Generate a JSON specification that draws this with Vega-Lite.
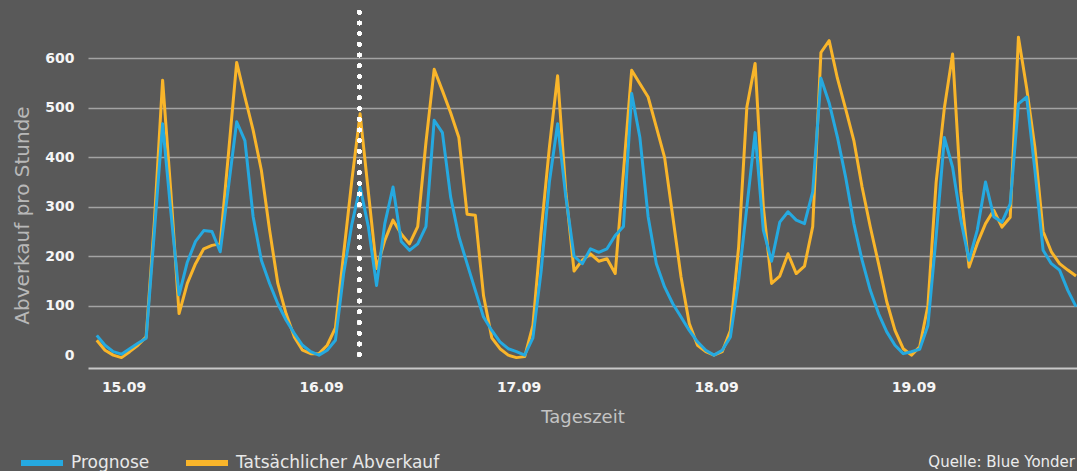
{
  "$schema": "https://vega.github.io/schema/vega-lite/v6.json",
  "width": 989,
  "height": 359,
  "autosize": {"type": "none"},
  "padding": {"left": 88, "top": 9, "right": 0, "bottom": 103},
  "background": "#595959",
  "data": {"values": [
    {"t":"2014-09-14T20:45","ist":30,"prognose":40},
    {"t":"2014-09-14T21:45","ist":10,"prognose":20},
    {"t":"2014-09-14T22:45","ist":0,"prognose":7},
    {"t":"2014-09-14T23:45","ist":-5,"prognose":2},
    {"t":"2014-09-15T00:45","ist":7,"prognose":13},
    {"t":"2014-09-15T01:45","ist":20,"prognose":24},
    {"t":"2014-09-15T02:45","ist":37,"prognose":34},
    {"t":"2014-09-15T03:45","ist":270,"prognose":250},
    {"t":"2014-09-15T04:45","ist":556,"prognose":468},
    {"t":"2014-09-15T05:45","ist":330,"prognose":290},
    {"t":"2014-09-15T06:45","ist":84,"prognose":122},
    {"t":"2014-09-15T07:45","ist":145,"prognose":188},
    {"t":"2014-09-15T08:45","ist":185,"prognose":230},
    {"t":"2014-09-15T09:45","ist":215,"prognose":252},
    {"t":"2014-09-15T10:45","ist":222,"prognose":250},
    {"t":"2014-09-15T11:45","ist":225,"prognose":209},
    {"t":"2014-09-15T12:45","ist":407,"prognose":340},
    {"t":"2014-09-15T13:45","ist":592,"prognose":472},
    {"t":"2014-09-15T14:45","ist":522,"prognose":434},
    {"t":"2014-09-15T15:45","ist":455,"prognose":280},
    {"t":"2014-09-15T16:45","ist":374,"prognose":192},
    {"t":"2014-09-15T17:45","ist":253,"prognose":145},
    {"t":"2014-09-15T18:45","ist":145,"prognose":104},
    {"t":"2014-09-15T19:45","ist":84,"prognose":71},
    {"t":"2014-09-15T20:45","ist":37,"prognose":44},
    {"t":"2014-09-15T21:45","ist":10,"prognose":20},
    {"t":"2014-09-15T22:45","ist":3,"prognose":7},
    {"t":"2014-09-15T23:45","ist":3,"prognose":0},
    {"t":"2014-09-16T00:45","ist":20,"prognose":10},
    {"t":"2014-09-16T01:45","ist":55,"prognose":30},
    {"t":"2014-09-16T02:45","ist":205,"prognose":165},
    {"t":"2014-09-16T03:45","ist":354,"prognose":265},
    {"t":"2014-09-16T04:45","ist":488,"prognose":340},
    {"t":"2014-09-16T05:45","ist":330,"prognose":260},
    {"t":"2014-09-16T06:45","ist":175,"prognose":141},
    {"t":"2014-09-16T07:45","ist":232,"prognose":266},
    {"t":"2014-09-16T08:45","ist":273,"prognose":340},
    {"t":"2014-09-16T09:45","ist":245,"prognose":230},
    {"t":"2014-09-16T10:45","ist":225,"prognose":212},
    {"t":"2014-09-16T11:45","ist":260,"prognose":225},
    {"t":"2014-09-16T12:45","ist":430,"prognose":260},
    {"t":"2014-09-16T13:45","ist":578,"prognose":475},
    {"t":"2014-09-16T14:45","ist":535,"prognose":450},
    {"t":"2014-09-16T15:45","ist":490,"prognose":320},
    {"t":"2014-09-16T16:45","ist":440,"prognose":240},
    {"t":"2014-09-16T17:45","ist":285,"prognose":185},
    {"t":"2014-09-16T18:45","ist":283,"prognose":131},
    {"t":"2014-09-16T19:45","ist":120,"prognose":77},
    {"t":"2014-09-16T20:45","ist":35,"prognose":50},
    {"t":"2014-09-16T21:45","ist":13,"prognose":27},
    {"t":"2014-09-16T22:45","ist":0,"prognose":13},
    {"t":"2014-09-16T23:45","ist":-5,"prognose":7},
    {"t":"2014-09-17T00:45","ist":-3,"prognose":0},
    {"t":"2014-09-17T01:45","ist":60,"prognose":35},
    {"t":"2014-09-17T02:45","ist":250,"prognose":170},
    {"t":"2014-09-17T03:45","ist":420,"prognose":350},
    {"t":"2014-09-17T04:45","ist":565,"prognose":468},
    {"t":"2014-09-17T05:45","ist":330,"prognose":320},
    {"t":"2014-09-17T06:45","ist":170,"prognose":200},
    {"t":"2014-09-17T07:45","ist":192,"prognose":185},
    {"t":"2014-09-17T08:45","ist":205,"prognose":215},
    {"t":"2014-09-17T09:45","ist":190,"prognose":208},
    {"t":"2014-09-17T10:45","ist":195,"prognose":215},
    {"t":"2014-09-17T11:45","ist":165,"prognose":242},
    {"t":"2014-09-17T12:45","ist":370,"prognose":260},
    {"t":"2014-09-17T13:45","ist":576,"prognose":529},
    {"t":"2014-09-17T14:45","ist":549,"prognose":440},
    {"t":"2014-09-17T15:45","ist":522,"prognose":280},
    {"t":"2014-09-17T16:45","ist":461,"prognose":185},
    {"t":"2014-09-17T17:45","ist":400,"prognose":138},
    {"t":"2014-09-17T18:45","ist":280,"prognose":104},
    {"t":"2014-09-17T19:45","ist":158,"prognose":77},
    {"t":"2014-09-17T20:45","ist":64,"prognose":50},
    {"t":"2014-09-17T21:45","ist":20,"prognose":27},
    {"t":"2014-09-17T22:45","ist":7,"prognose":10},
    {"t":"2014-09-17T23:45","ist":0,"prognose":0},
    {"t":"2014-09-18T00:45","ist":7,"prognose":10},
    {"t":"2014-09-18T01:45","ist":50,"prognose":37},
    {"t":"2014-09-18T02:45","ist":219,"prognose":152},
    {"t":"2014-09-18T03:45","ist":502,"prognose":300},
    {"t":"2014-09-18T04:45","ist":590,"prognose":450},
    {"t":"2014-09-18T05:45","ist":300,"prognose":253},
    {"t":"2014-09-18T06:45","ist":145,"prognose":190},
    {"t":"2014-09-18T07:45","ist":160,"prognose":269},
    {"t":"2014-09-18T08:45","ist":205,"prognose":290},
    {"t":"2014-09-18T09:45","ist":165,"prognose":273},
    {"t":"2014-09-18T10:45","ist":180,"prognose":266},
    {"t":"2014-09-18T11:45","ist":260,"prognose":330},
    {"t":"2014-09-18T12:45","ist":612,"prognose":560},
    {"t":"2014-09-18T13:45","ist":636,"prognose":510},
    {"t":"2014-09-18T14:45","ist":560,"prognose":441},
    {"t":"2014-09-18T15:45","ist":498,"prognose":360},
    {"t":"2014-09-18T16:45","ist":434,"prognose":266},
    {"t":"2014-09-18T17:45","ist":340,"prognose":192},
    {"t":"2014-09-18T18:45","ist":259,"prognose":131},
    {"t":"2014-09-18T19:45","ist":185,"prognose":84},
    {"t":"2014-09-18T20:45","ist":108,"prognose":47},
    {"t":"2014-09-18T21:45","ist":50,"prognose":20},
    {"t":"2014-09-18T22:45","ist":13,"prognose":3},
    {"t":"2014-09-18T23:45","ist":0,"prognose":7},
    {"t":"2014-09-19T00:45","ist":17,"prognose":12},
    {"t":"2014-09-19T01:45","ist":100,"prognose":60},
    {"t":"2014-09-19T02:45","ist":350,"prognose":240},
    {"t":"2014-09-19T03:45","ist":500,"prognose":440},
    {"t":"2014-09-19T04:45","ist":609,"prognose":380},
    {"t":"2014-09-19T05:45","ist":330,"prognose":273},
    {"t":"2014-09-19T06:45","ist":178,"prognose":192},
    {"t":"2014-09-19T07:45","ist":226,"prognose":253},
    {"t":"2014-09-19T08:45","ist":266,"prognose":350},
    {"t":"2014-09-19T09:45","ist":293,"prognose":280},
    {"t":"2014-09-19T10:45","ist":259,"prognose":269},
    {"t":"2014-09-19T11:45","ist":279,"prognose":306},
    {"t":"2014-09-19T12:45","ist":643,"prognose":508},
    {"t":"2014-09-19T13:45","ist":540,"prognose":522},
    {"t":"2014-09-19T14:45","ist":420,"prognose":374},
    {"t":"2014-09-19T15:45","ist":250,"prognose":212},
    {"t":"2014-09-19T16:45","ist":209,"prognose":185},
    {"t":"2014-09-19T17:45","ist":185,"prognose":172},
    {"t":"2014-09-19T18:45","ist":172,"prognose":131},
    {"t":"2014-09-19T19:45","ist":160,"prognose":98}
  ]},
  "title": {
    "text": "Quelle: Blue Yonder",
    "orient": "bottom",
    "anchor": "end",
    "frame": "group",
    "dx": -2,
    "offset": -20,
    "font": "DejaVu Sans",
    "fontSize": 15,
    "fontWeight": "normal",
    "color": "#ececec"
  },
  "layer": [
    {
      "transform": [{"fold": ["ist", "prognose"], "as": ["serie", "wert"]}],
      "mark": {"type": "line", "strokeWidth": 3, "strokeJoin": "round"},
      "encoding": {
        "x": {
          "field": "t",
          "type": "temporal",
          "scale": {
            "domain": [
              {"year": 2014, "month": 9, "date": 14, "hours": 19, "minutes": 41},
              {"year": 2014, "month": 9, "date": 19, "hours": 19, "minutes": 52}
            ],
            "nice": false
          },
          "axis": {
            "title": "Tageszeit",
            "values": [
              {"year": 2014, "month": 9, "date": 15},
              {"year": 2014, "month": 9, "date": 16},
              {"year": 2014, "month": 9, "date": 17},
              {"year": 2014, "month": 9, "date": 18},
              {"year": 2014, "month": 9, "date": 19}
            ],
            "format": "%d.%m",
            "grid": false,
            "ticks": false,
            "tickSize": 0,
            "labelPadding": 12,
            "labelFont": "DejaVu Sans",
            "labelFontWeight": "bold",
            "labelFontSize": 14,
            "labelColor": "#f5f5f5",
            "labelFlush": false,
            "labelOverlap": false,
            "domainColor": "#c8c8c8",
            "domainWidth": 2,
            "titleFont": "DejaVu Sans",
            "titleFontSize": 18,
            "titleFontWeight": "normal",
            "titleColor": "#c4c4c4",
            "titlePadding": 14
          }
        },
        "y": {
          "field": "wert",
          "type": "quantitative",
          "scale": {"domain": [-26, 700], "nice": false, "zero": false},
          "axis": {
            "title": "Abverkauf pro Stunde",
            "values": [0, 100, 200, 300, 400, 500, 600],
            "domain": false,
            "ticks": false,
            "tickSize": 0,
            "labelPadding": 14,
            "labelFont": "DejaVu Sans",
            "labelFontWeight": "bold",
            "labelFontSize": 14,
            "labelColor": "#f5f5f5",
            "gridColor": {"condition": {"test": "datum.value === 0", "value": "transparent"}, "value": "#a3a3a3"},
            "gridWidth": 1.3,
            "titleFont": "DejaVu Sans",
            "titleFontSize": 20,
            "titleFontWeight": "normal",
            "titleColor": "#b8b8b8",
            "titleX": -66,
            "titleY": 206,
            "titleAngle": 270,
            "titleAlign": "center",
            "titleBaseline": "middle"
          }
        },
        "color": {
          "field": "serie",
          "type": "nominal",
          "scale": {"domain": ["prognose", "ist"], "range": ["#25a9e0", "#f9b52a"]},
          "legend": {
            "title": null,
            "orient": "none",
            "legendX": -70,
            "legendY": 430,
            "direction": "horizontal",
            "padding": 0,
            "symbolType": "stroke",
            "symbolSize": 1764,
            "symbolStrokeWidth": 6,
            "labelFont": "DejaVu Sans",
            "labelFontSize": 17,
            "labelColor": "#e8e8e8",
            "labelOffset": 5,
            "labelLimit": 400,
            "columnPadding": 24,
            "labelExpr": "datum.label == 'prognose' ? 'Prognose' : 'Tatsächlicher Abverkauf'"
          }
        }
      }
    },
    {
      "mark": {"type": "rule", "color": "#ffffff", "strokeWidth": 4, "strokeDash": [0.5, 10.2], "strokeCap": "round"},
      "encoding": {
        "x": {"datum": {"year": 2014, "month": 9, "date": 16, "hours": 4, "minutes": 40}, "type": "temporal"},
        "y": {"datum": 694},
        "y2": {"datum": -16}
      }
    }
  ],
  "config": {
    "view": {"stroke": null}
  }
}
